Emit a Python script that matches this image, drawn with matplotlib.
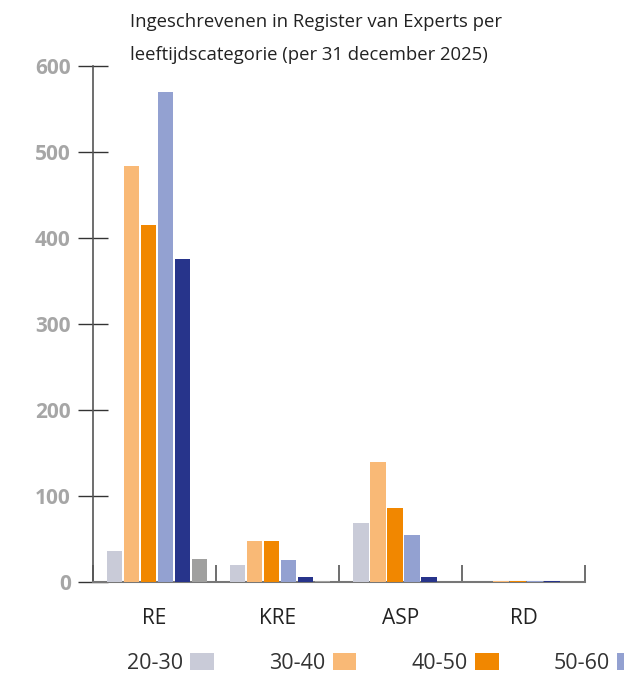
import numpy as np
import matplotlib
matplotlib.use('Agg')
import matplotlib.pyplot as plt
from matplotlib.patches import Patch

plt.rcParams['font.family'] = ['Open Sans', 'DejaVu Sans']

# data
categories = ['RE', 'KRE', 'ASP', 'RD']
age_groups = ['20-30', '30-40', '40-50', '50-60', '60-70', '70+']
counts = {
    '20-30': [36, 20, 69, 0],
    '30-40': [484, 48, 139, 1],
    '40-50': [415, 47, 86, 1],
    '50-60': [570, 26, 55, 1],
    '60-70': [376, 6, 6, 1],
    '70+':   [27, 1, 0, 0],
}
colors = ['#C9CBD8', '#F9B976', '#F18700', '#93A1D1', '#27348B', '#A0A09F']
y_ticks = [0, 100, 200, 300, 400, 500, 600]
# the reference legend is cropped by the image edge after 4 entries
n_legend = 4

fig = plt.figure(figsize=(6.24, 6.79), dpi=100)
ax = fig.add_axes([0.149, 0.143, 0.789, 0.760])

x = np.arange(len(categories))
w = 0.138
for i, grp in enumerate(age_groups):
    off = (i - (len(age_groups) - 1) / 2) * w + 0.02
    ax.bar(x + off, counts[grp], width=w * 0.93, color=colors[i],
           linewidth=0, zorder=3)

ax.set_xlim(-0.5, len(categories) - 0.5)
ax.set_ylim(0, 600)

for s in ['top', 'right']:
    ax.spines[s].set_visible(False)
ax.spines['left'].set_color('#555555')
ax.spines['bottom'].set_color('#777777')
ax.spines['left'].set_linewidth(1.2)
ax.spines['bottom'].set_linewidth(1.5)

ax.set_yticks(y_ticks)
ax.tick_params(axis='y', direction='inout', length=22, width=1.0, color='#333333',
               labelcolor='#A6A6A6', labelsize=15, pad=5)
for lbl in ax.get_yticklabels():
    lbl.set_fontweight('bold')

ax.set_xticks(np.arange(len(categories) + 1) - 0.5)
ax.set_xticklabels([])
ax.tick_params(axis='x', which='major', direction='in', length=12, width=1.2, color='#555555')
ax.set_xticks(x, minor=True)
ax.set_xticklabels(categories, minor=True)
ax.tick_params(axis='x', which='minor', length=0, pad=19, labelsize=15, labelcolor='#222222')

fig.text(0.208, 0.968, 'Ingeschrevenen in Register van Experts per',
         fontsize=13.3, color='#222222', ha='left', va='center')
fig.text(0.208, 0.919, 'leeftijdscategorie (per 31 december 2025)',
         fontsize=13.3, color='#222222', ha='left', va='center')

handles = [Patch(facecolor=c, edgecolor='none') for c in colors[:n_legend]]
fig.legend(handles, age_groups[:n_legend], loc='center left', bbox_to_anchor=(0.203, 0.023),
           ncol=n_legend, frameon=False, markerfirst=False, fontsize=15.5,
           handlelength=1.1, handleheight=0.85, handletextpad=0.35,
           columnspacing=2.55, labelcolor='#333333', borderaxespad=0, borderpad=0)

fig.savefig('out.png', dpi=100)
